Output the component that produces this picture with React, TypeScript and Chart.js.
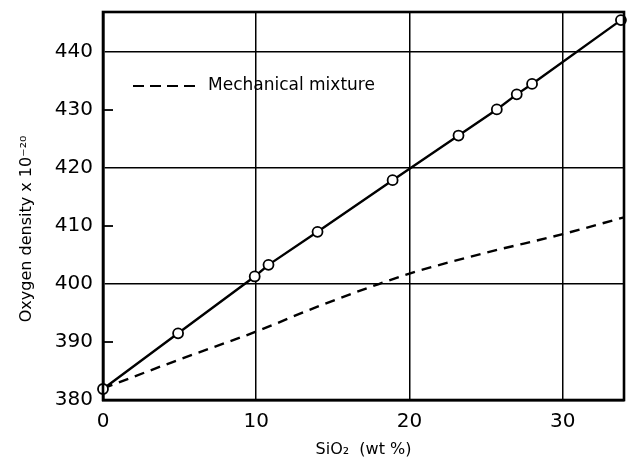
import React, { useEffect, useRef } from 'react';
import { Chart, registerables } from 'chart.js';

Chart.register(...registerables);

// Measured oxygen density vs SiO2 content
const measuredSiO2 = [0, 4.9, 9.9, 10.8, 14.0, 18.9, 23.2, 25.7, 27.0, 28.0, 33.8];
const measuredDensity = [381.9, 391.5, 401.3, 403.3, 409.0, 417.9, 425.6, 430.1, 432.7, 434.5, 445.5];

// Mechanical mixture curve
const mixtureSiO2 = [0, 5, 10, 14, 18, 20, 25, 30, 34];
const mixtureDensity = [382, 387.0, 391.8, 396.1, 400.0, 401.8, 405.4, 408.6, 411.5];

const xTickValues = [0, 10, 20, 30];
const yTickValues = [380, 390, 400, 410, 420, 430, 440];
const yMajorGrid = [400, 420, 440];
const yMinorTicks = [390, 410, 430];

const xTitle = 'SiO₂  (wt %)';
const yTitle = 'Oxygen density x 10⁻²⁰';
const legendLabel = 'Mechanical mixture';

const FONT = '"DejaVu Sans", sans-serif';

const framePlugin = {
  id: 'frame',
  afterDraw(chart: any) {
    const { ctx, chartArea, scales } = chart;
    ctx.save();
    ctx.strokeStyle = '#000';
    ctx.lineWidth = 1.8;
    ctx.setLineDash([]);
    for (const v of yMinorTicks) {
      const y = scales.y.getPixelForValue(v);
      ctx.beginPath();
      ctx.moveTo(chartArea.left, y);
      ctx.lineTo(chartArea.left + 10, y);
      ctx.stroke();
    }
    ctx.lineWidth = 2.6;
    ctx.strokeRect(chartArea.left, chartArea.top, chartArea.right - chartArea.left, chartArea.bottom - chartArea.top);
    // legend for mechanical mixture
    const lx = chartArea.left + 30;
    const ly = chartArea.top + 74;
    ctx.lineWidth = 2.2;
    ctx.setLineDash([11, 6]);
    ctx.beginPath();
    ctx.moveTo(lx, ly);
    ctx.lineTo(lx + 62, ly);
    ctx.stroke();
    ctx.setLineDash([]);
    ctx.fillStyle = '#000';
    ctx.font = '17px ' + FONT;
    ctx.textBaseline = 'middle';
    ctx.textAlign = 'left';
    ctx.fillText(chart.data.datasets[1].label, lx + 75, ly);
    ctx.restore();
  },
};

export default function App() {
  const ref = useRef<HTMLCanvasElement | null>(null);

  useEffect(() => {
    document.body.style.margin = '0';
    const canvas = ref.current;
    if (!canvas) return;
    const chart = new Chart(canvas, {
      type: 'scatter',
      data: {
        datasets: [
          {
            label: 'Measured',
            data: measuredSiO2.map((x, i) => ({ x, y: measuredDensity[i] })),
            showLine: true,
            borderColor: '#000',
            borderWidth: 2.4,
            pointRadius: 5,
            pointBackgroundColor: '#fff',
            pointBorderColor: '#000',
            pointBorderWidth: 1.8,
            clip: 10,
          },
          {
            label: legendLabel,
            data: mixtureSiO2.map((x, i) => ({ x, y: mixtureDensity[i] })),
            showLine: true,
            borderColor: '#000',
            borderWidth: 2.4,
            borderDash: [10, 7],
            pointRadius: 0,
            cubicInterpolationMode: 'monotone',
          },
        ],
      },
      options: {
        responsive: false,
        animation: false,
        layout: { padding: { top: 12, right: 8, left: 0, bottom: 0 } },
        plugins: {
          legend: { display: false },
          tooltip: { enabled: false },
        },
        scales: {
          x: {
            type: 'linear',
            min: 0,
            max: 34,
            afterFit: (s: any) => { s.height = 59; s.paddingLeft = 0; s.paddingRight = 0; },
            afterBuildTicks: (s: any) => { s.ticks = xTickValues.map((v) => ({ value: v })); },
            ticks: {
              stepSize: 10,
              includeBounds: false,
              color: '#000',
              padding: 10,
              font: { family: FONT, size: 20 },
            },
            grid: {
              color: '#000',
              lineWidth: 1.5,
              drawTicks: false,
            },
            border: { display: true, color: '#000', width: 2.6 },
            title: {
              display: true,
              text: xTitle,
              color: '#000',
              font: { family: FONT, size: 16 },
              padding: { top: 0, bottom: 0 },
            },
          },
          y: {
            type: 'linear',
            min: 380,
            max: 446.9,
            afterFit: (s: any) => { s.width = 103; s.paddingTop = 0; s.paddingBottom = 0; },
            afterBuildTicks: (s: any) => { s.ticks = yTickValues.map((v) => ({ value: v })); },
            ticks: {
              stepSize: 10,
              includeBounds: false,
              color: '#000',
              padding: 10,
              font: { family: FONT, size: 20 },
            },
            grid: {
              color: (c: any) => (yMajorGrid.includes(c.tick?.value) ? '#000' : 'rgba(0,0,0,0)'),
              lineWidth: 1.5,
              drawTicks: false,
            },
            border: { display: true, color: '#000', width: 2.6 },
            title: {
              display: true,
              text: yTitle + '\u00a0'.repeat(9),
              color: '#000',
              font: { family: FONT, size: 16 },
              padding: { top: 17, bottom: 0 },
            },
          },
        },
      },
      plugins: [framePlugin],
    });
    return () => chart.destroy();
  }, []);

  return (
    <div style={{ width: 632, height: 459, background: '#fff' }}>
      <canvas ref={ref} width={632} height={459} />
    </div>
  );
}
